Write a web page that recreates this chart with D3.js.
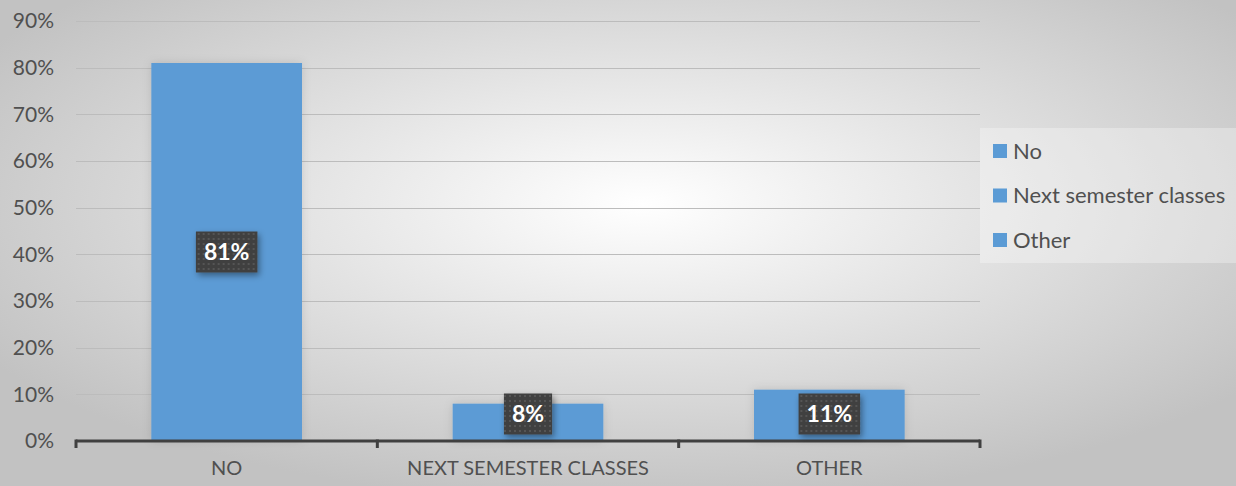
<!DOCTYPE html>
<html>
<head>
<meta charset="utf-8">
<script src="https://cdn.jsdelivr.net/npm/d3@7"></script>
<style>
  body { margin: 0; }
  svg { display: block; font-family: Lato, "Open Sans", sans-serif; }
</style>
</head>
<body>
<svg class="chart"></svg>
<script>
var categories = ["NO", "NEXT SEMESTER CLASSES", "OTHER"];
var legendNames = ["No", "Next semester classes", "Other"];
var values = [0.81, 0.08, 0.11];
var yTicks = [0, 0.1, 0.2, 0.3, 0.4, 0.5, 0.6, 0.7, 0.8, 0.9];

var Width = 1236, Height = 486;
var margin = {top: 21, left: 76, right: 256, bottom: 45};
var barColor = "#5b9bd5";
var textColor = "#505050";

var svg = d3.select(".chart").attr("width", Width).attr("height", Height);
var defs = svg.append("defs");

// background gradient
var grad = defs.append("radialGradient").attr("id", "bg")
    .attr("cx", "52%").attr("cy", "42%").attr("r", "62%");
grad.append("stop").attr("offset", "0%").attr("stop-color", "#ffffff");
grad.append("stop").attr("offset", "100%").attr("stop-color", "#c2c2c2");

// dotted pattern for label boxes
var pat = defs.append("pattern").attr("id", "dots")
    .attr("width", 5).attr("height", 5).attr("patternUnits", "userSpaceOnUse");
pat.append("rect").attr("width", 5).attr("height", 5).attr("fill", "#404040");
pat.append("rect").attr("x", 1).attr("y", 1).attr("width", 2).attr("height", 2).attr("fill", "#555555");

var sh = defs.append("filter").attr("id", "shadow")
    .attr("x", "-30%").attr("y", "-30%").attr("width", "160%").attr("height", "160%");
sh.append("feDropShadow").attr("dx", 2).attr("dy", 3).attr("stdDeviation", 3)
    .attr("flood-color", "#000").attr("flood-opacity", 0.4);

var glow = defs.append("filter").attr("id", "glow")
    .attr("x", "-20%").attr("y", "-20%").attr("width", "140%").attr("height", "140%");
glow.append("feDropShadow").attr("dx", 0).attr("dy", 0).attr("stdDeviation", 5)
    .attr("flood-color", "#000").attr("flood-opacity", 0.12);

svg.append("rect").attr("width", Width).attr("height", Height).attr("fill", "url(#bg)");

var plotW = Width - margin.left - margin.right;   // 904
var plotH = Height - margin.top - margin.bottom;  // 420

var x = d3.scaleBand().domain(categories).range([0, plotW]).paddingInner(0.5).paddingOuter(0.25);
var y = d3.scaleLinear().domain([0, 0.9]).range([plotH, 0]);

var chart = svg.append("g").attr("transform", "translate(" + margin.left + "," + margin.top + ")");

// gridlines
chart.append("g").selectAll("line").data(yTicks.slice(1)).enter().append("line")
    .attr("x1", 0).attr("x2", plotW)
    .attr("y1", function(d) { return Math.round(y(d)) + 0.5; })
    .attr("y2", function(d) { return Math.round(y(d)) + 0.5; })
    .attr("stroke", "#bcbcbc").attr("stroke-width", 1);

// y axis labels
var yAxis = d3.axisLeft(y).tickValues(yTicks).tickFormat(d3.format(".0%")).tickSize(0).tickPadding(22);
var yg = chart.append("g").call(yAxis);
yg.select(".domain").remove();
yg.selectAll("text").attr("font-size", 21).attr("fill", textColor)
    .attr("font-family", "Lato, 'Open Sans', sans-serif");

// bars
chart.append("g").selectAll("rect").data(values).enter().append("rect")
    .attr("x", function(d, i) { return x(categories[i]); })
    .attr("y", function(d) { return y(d); })
    .attr("width", x.bandwidth())
    .attr("height", function(d) { return plotH - y(d); })
    .attr("fill", barColor)
    .attr("filter", "url(#glow)");

// x axis
var xAxis = d3.axisBottom(x).tickSize(0).tickPadding(20);
var xg = chart.append("g").attr("transform", "translate(0," + plotH + ")").call(xAxis);
xg.select(".domain").remove();
xg.selectAll("text").attr("font-size", 20).attr("fill", textColor)
    .attr("font-family", "Lato, 'Open Sans', sans-serif");
xg.append("line").attr("x1", 0).attr("x2", plotW).attr("y1", 0).attr("y2", 0)
    .attr("stroke", "#404040").attr("stroke-width", 3);
var tickPos = [0].concat(categories.map(function(c) { return x(c) + x.bandwidth() + x.step() * 0.25; }));
xg.selectAll(".tk").data(tickPos).enter().append("line").attr("class", "tk")
    .attr("x1", function(d) { return d; }).attr("x2", function(d) { return d; })
    .attr("y1", -1.5).attr("y2", 7)
    .attr("stroke", "#404040").attr("stroke-width", 3);

// data labels
var labels = chart.append("g").selectAll("g").data(values).enter().append("g")
    .attr("transform", function(d, i) {
      var cy = Math.min((y(d) + plotH) / 2, plotH - 27);
      return "translate(" + (x(categories[i]) + x.bandwidth() / 2) + "," + cy + ")";
    });
labels.append("rect").attr("class", "box").attr("fill", "url(#dots)").attr("filter", "url(#shadow)");
labels.append("text")
    .attr("text-anchor", "middle").attr("dy", "0.36em")
    .attr("font-size", 23).attr("font-weight", "bold").attr("fill", "#ffffff")
    .text(function(d) { return d3.format(".0%")(d); });
labels.each(function() {
  var g = d3.select(this);
  var bb = g.select("text").node().getBBox();
  g.select("rect").attr("x", bb.x - 8).attr("y", -20.5).attr("width", bb.width + 16).attr("height", 41);
});

// legend
var leg = svg.append("g").attr("transform", "translate(980,128)");
leg.append("rect").attr("width", 256).attr("height", 135).attr("fill", "#ffffff").attr("opacity", 0.3);
var items = leg.selectAll(".item").data(legendNames).enter().append("g").attr("class", "item")
    .attr("transform", function(d, i) { return "translate(13," + (23 + i * 44.5) + ")"; });
items.append("rect").attr("y", -7).attr("width", 14).attr("height", 14).attr("fill", barColor);
items.append("text").attr("x", 20).attr("dy", "0.35em")
    .attr("font-size", 22).attr("fill", textColor).text(function(d) { return d; });
</script>
</body>
</html>
